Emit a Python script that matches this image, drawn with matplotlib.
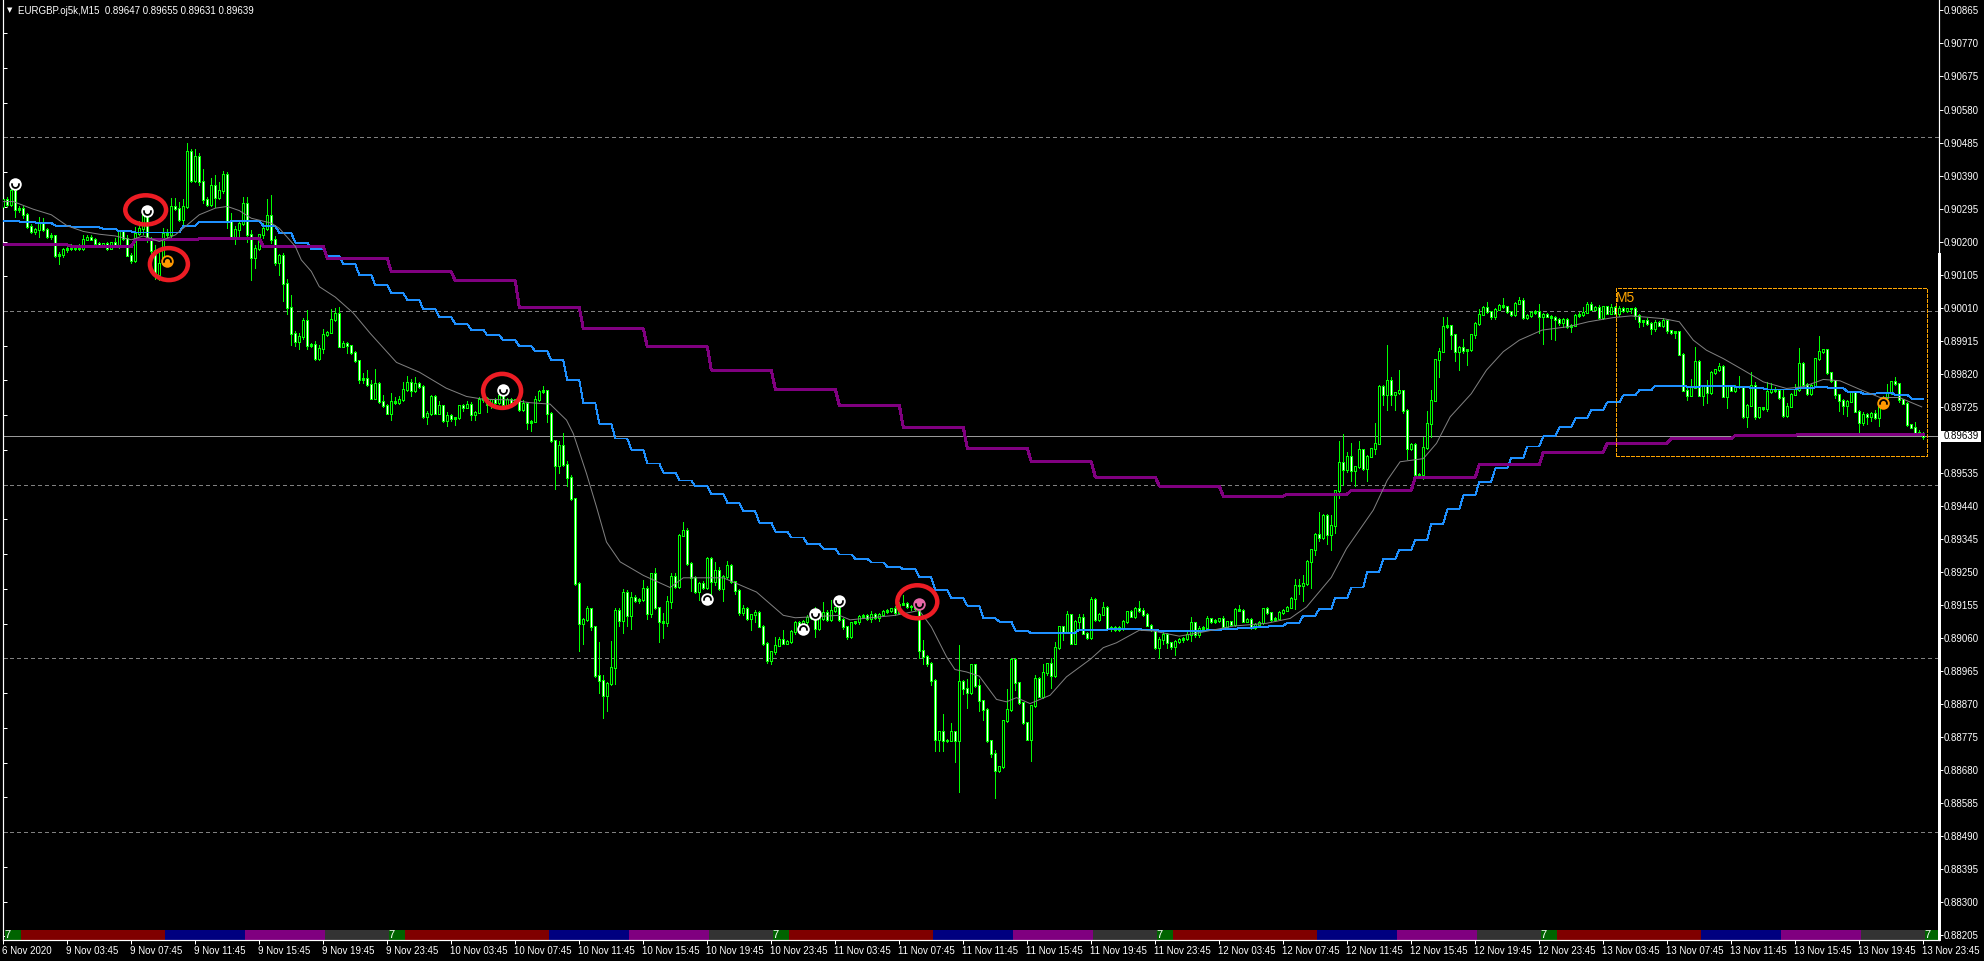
import numpy as np
import matplotlib
matplotlib.use("Agg")
import matplotlib.pyplot as plt
from matplotlib.patches import Ellipse, Rectangle
from matplotlib.path import Path
from matplotlib.transforms import ScaledTranslation

# =========================
# DATA (points above 0.88000)
# =========================

FIRST_OPEN = 2301

CLOSE_PTS = [
    2320,2306,2347,2291,2296,2277,2243,2228,2234,2255,2235,2214,2216,2161,2163,2176,2181,2179,2183,2180,
    2207,2211,2207,2195,2188,2193,2181,2197,2186,2228,2209,2161,2144,2224,2238,2274,2205,2174,2104,2138,
    2224,2219,2301,2296,2264,2301,2458,2376,2445,2373,2322,2306,2362,2328,2347,2392,2258,2214,2234,2253,
    2308,2219,2155,2181,2219,2238,2274,2205,2140,2159,2080,2011,1936,1912,1928,1974,1900,1904,1863,1893,
    1931,1939,1976,1994,1898,1907,1900,1880,1857,1804,1806,1787,1749,1792,1739,1728,1706,1739,1736,1744,
    1775,1794,1771,1790,1784,1696,1706,1754,1706,1727,1684,1700,1691,1693,1727,1723,1730,1701,1708,1746,
    1749,1730,1744,1736,1758,1730,1744,1736,1744,1717,1734,1679,1683,1744,1768,1771,1706,1627,1555,1613,
    1559,1520,1459,1215,1100,1112,1143,1091,950,937,893,927,975,1139,1108,1191,1124,1175,1167,1169,
    1201,1129,1244,1146,1106,1103,1164,1237,1208,1355,1369,1273,1233,1194,1217,1204,1287,1220,1252,1201,
    1235,1268,1220,1196,1131,1143,1116,1125,1132,1093,1043,993,1019,1038,1054,1043,1048,1076,1102,1091,
    1105,1119,1134,1086,1115,1132,1112,1139,1146,1112,1091,1062,1102,1105,1121,1124,1116,1127,1117,1127,
    1135,1137,1143,1131,1156,1158,1148,1150,1143,1022,1005,985,935,767,789,763,765,789,763,934,
    912,901,982,922,878,853,763,726,676,688,820,853,997,930,872,815,767,863,941,891,
    958,985,951,1031,1091,1077,1125,1043,1107,1118,1072,1060,1170,1112,1127,1147,1085,1088,1083,1088,
    1106,1134,1122,1144,1139,1127,1095,1083,1031,1053,1070,1045,1033,1049,1053,1057,1070,1103,1070,1086,
    1089,1114,1106,1108,1114,1093,1106,1099,1141,1139,1107,1112,1089,1099,1103,1143,1131,1112,1115,1132,
    1139,1147,1173,1210,1211,1215,1279,1313,1357,1348,1412,1357,1383,1482,1565,1544,1580,1542,1551,1601,
    1546,1582,1604,1619,1784,1760,1801,1760,1765,1770,1715,1604,1616,1529,1530,1607,1676,1743,1859,1884,
    1954,1958,1932,1884,1895,1885,1889,1932,1964,1991,2010,1998,1983,2005,2016,2012,1998,1989,2022,2031,
    1981,1987,1995,1999,1983,1990,1985,1980,1976,1966,1976,1954,1959,1987,1989,1997,2020,2005,2010,1981,
    2012,1993,2010,1993,2007,2001,2007,2007,1988,1969,1972,1964,1950,1968,1959,1972,1943,1937,1940,1875,
    1772,1758,1780,1856,1758,1782,1764,1823,1831,1841,1755,1782,1772,1784,1782,1695,1729,1785,1695,1722,
    1719,1767,1774,1770,1751,1698,1726,1760,1774,1849,1788,1762,1786,1863,1883,1889,1822,1799,1759,1743,
    1729,1740,1765,1712,1678,1703,1695,1705,1693,1724,1751,1764,1796,1791,1745,1734,1672,1666,1649,1647,
    1639,
]

WICK_UP = [
    30,8,10,5,6,5,5,8,6,15,12,5,8,3,8,5,3,12,8,10,
    12,8,8,3,3,3,6,3,12,5,6,10,5,18,20,12,5,8,15,30,
    15,12,25,25,18,22,25,8,22,10,35,5,20,30,25,12,8,25,10,8,
    20,20,15,10,3,15,48,60,10,5,8,12,34,5,10,5,30,3,10,10,
    18,3,30,15,18,8,5,3,5,3,15,25,15,40,3,20,3,25,12,12,
    20,20,10,20,5,3,5,5,3,15,3,8,3,3,3,5,10,8,3,5,
    3,3,3,5,8,10,5,5,3,8,10,3,3,12,5,12,3,3,3,12,
    35,8,8,3,5,3,8,3,3,98,15,5,75,5,5,10,5,15,8,5,
    25,8,3,15,3,25,15,10,10,3,25,5,5,3,3,5,5,5,25,10,
    5,12,5,3,5,12,5,3,8,5,3,5,3,25,8,28,6,5,5,5,
    5,5,5,15,8,30,8,28,3,3,3,3,3,3,3,5,5,8,5,5,
    5,5,3,8,5,25,5,5,10,5,30,5,5,5,3,50,3,25,3,105,
    5,30,3,3,20,3,3,3,10,3,3,58,3,3,3,3,3,3,10,5,
    25,3,15,15,3,3,10,3,3,10,10,3,8,3,5,15,3,5,5,5,
    5,3,5,3,20,5,5,3,3,8,5,3,3,5,5,5,8,15,3,8,
    3,8,3,5,3,8,3,3,3,12,3,5,3,3,5,3,5,3,3,5,
    3,5,3,18,18,25,3,3,5,65,3,3,30,3,62,80,15,40,3,25,
    3,3,3,60,3,3,100,10,3,60,3,3,3,3,3,30,35,30,3,10,
    28,25,3,3,3,25,3,3,3,15,5,15,3,5,3,22,3,3,3,8,
    5,3,5,5,20,5,3,3,5,5,3,5,5,3,8,15,5,5,5,8,
    3,3,10,3,8,5,3,3,5,3,3,8,3,5,3,8,3,3,3,3,
    3,5,25,40,3,3,20,3,3,8,3,3,3,3,30,3,3,40,10,3,
    3,30,20,8,3,25,8,3,15,45,3,5,3,3,45,3,3,3,3,3,
    5,5,3,5,3,5,3,3,10,3,3,25,3,15,3,3,3,3,15,8,
    5,
]

WICK_DOWN = [
    5,5,3,20,5,10,5,3,5,20,5,3,8,5,26,8,6,3,3,3,
    5,3,3,3,5,3,5,3,3,5,5,3,5,3,5,15,5,8,12,14,
    5,5,5,5,5,15,5,5,5,10,10,5,5,30,5,8,20,8,22,22,
    5,20,65,30,5,10,5,10,8,35,50,20,35,12,20,10,10,3,4,5,
    15,3,3,5,3,3,20,5,3,10,12,3,3,3,3,3,3,20,3,3,
    3,5,15,3,5,5,20,5,3,3,3,15,8,20,3,10,3,15,15,3,
    8,20,10,3,3,12,3,5,3,5,5,18,25,3,3,3,25,3,68,20,
    5,25,3,5,80,58,5,10,3,38,64,45,5,50,15,35,30,40,5,8,
    5,15,10,5,60,45,10,20,5,5,3,5,40,5,25,5,5,45,10,5,
    35,5,3,10,5,5,5,35,20,3,5,5,8,5,3,3,3,3,5,3,
    5,5,5,25,5,5,5,5,5,3,5,5,3,3,5,3,5,12,3,8,
    3,3,3,5,3,3,3,8,5,22,20,8,12,33,35,30,3,3,62,148,
    15,45,3,3,30,30,3,10,78,3,3,3,3,20,3,3,3,62,3,3,
    5,5,35,5,3,25,3,3,3,20,3,3,3,3,5,3,3,5,5,5,
    5,5,3,5,5,5,3,5,5,29,12,15,5,24,5,5,3,20,8,8,
    8,3,3,3,3,3,3,3,5,3,3,3,3,5,3,3,3,3,3,3,
    3,3,3,30,25,45,3,75,15,10,3,28,45,22,20,45,8,30,45,3,
    3,35,3,15,3,30,45,30,45,5,10,30,5,3,5,15,3,40,3,50,
    3,3,40,28,55,5,40,3,10,3,3,3,5,5,3,3,5,3,3,3,
    3,3,5,3,45,77,3,60,60,5,12,3,15,3,3,3,3,3,3,5,
    5,3,3,3,8,3,3,12,10,15,12,3,15,8,3,5,5,3,15,3,
    3,15,3,3,3,30,30,3,3,3,3,35,3,5,3,3,30,3,5,3,
    3,8,3,3,3,3,3,3,3,3,3,3,5,3,3,3,3,3,10,30,
    25,30,3,3,25,5,20,12,3,25,3,3,3,3,8,3,3,3,3,3,
    8,
]

# slow average, one value per hour (4 bars)
BLUE_PTS = [
    2258,2255,2253,2246,2243,2241,2236,2229,2226,2226,2226,2245,2256,2256,2258,2258,2245,2224,2197,2178,
    2157,2135,2104,2074,2051,2032,2005,1982,1962,1946,1930,1916,1899,1884,1858,1801,1735,1676,1633,1601,
    1561,1535,1512,1495,1474,1448,1423,1391,1365,1348,1330,1316,1299,1287,1276,1264,1256,1233,1196,1173,
    1152,1115,1106,1080,1072,1072,1074,1083,1083,1084,1085,1082,1080,1079,1079,1081,1085,1087,1091,1094,
    1103,1123,1143,1175,1204,1250,1286,1313,1342,1388,1429,1469,1509,1547,1578,1610,1639,1665,1691,1716,
    1737,1757,1772,1785,1785,1782,1784,1785,1782,1777,1774,1774,1779,1780,1778,1768,1762,1765,1759,1748,
]

# slowest average, one value per 4 hours (16 bars)
PURPLE_PTS = [
    2190,2186,2205,2208,2186,2151,2113,2087,2010,1949,1897,1830,1775,1729,1665,
    1605,1566,1522,1496,1467,1473,1484,1522,1557,1594,1620,1632,1642,1645,1645,
]

# fast average, vertices
MA_BARS = [
    0,2.5,7.5,12,16,20,24,28,32,35,39,43,46,49,53,56,59,62,67,69,73,74.5,77,79,83,87.5,91.7,98.3,104,110.7,
    115.8,120,126.7,131.7,136.7,140.8,142.5,145.8,148.3,150.8,154.2,160,166.7,170,180,188.3,195,198,209,211.7,
    223,229,232,235.8,237.9,240.8,244,248.3,250.8,253.3,256.7,261.7,265.8,271.7,275,278.3,284,287.5,294,299,
    307.5,315.8,321.7,325.8,332,335.8,342.5,346,349.2,355,358.3,361.7,367,370.8,375,379,384.7,391.3,396.3,402.5,
    407,415,419,422.5,425.8,430,435,440,445.8,450,455,459.2,464.2,469.2,474,479.6,
]
MA_PTS = [
    2315,2315,2293,2277,2245,2229,2221,2216,2205,2216,2200,2219,2248,2277,2296,2301,2289,2267,2253,2238,2186,2147,2114,2070,2040,1994,1936,1852,1824,1778,
    1754,1746,1744,1736,1732,1686,1647,1532,1436,1335,1278,1239,1204,1232,1232,1191,1124,1117,1124,1111,
    1124,1138,1091,1005,968,961,949,882,875,887,870,894,947,997,1031,1045,1081,1079,1064,1074,
    1093,1101,1115,1148,1233,1316,1427,1513,1566,1575,1619,1695,1762,1830,1883,1916,1945,1955,1969,1981,
    1986,1978,1969,1916,1887,1863,1830,1796,1777,1782,1803,1799,1774,1751,1751,1724,
]

LEVELS = [0.905, 0.900, 0.895, 0.890, 0.885]
LAST_PRICE = 0.89639

PRICE_TICKS = [
    0.90865,0.90770,0.90675,0.90580,0.90485,0.90390,0.90295,0.90200,0.90105,0.90010,
    0.89915,0.89820,0.89725,0.89535,0.89440,0.89345,0.89250,0.89155,0.89060,0.88965,
    0.88870,0.88775,0.88680,0.88585,0.88490,0.88395,0.88300,0.88205,
]

TIME_LABELS = [
    "6 Nov 2020",
    "9 Nov 03:45","9 Nov 07:45","9 Nov 11:45","9 Nov 15:45","9 Nov 19:45","9 Nov 23:45",
    "10 Nov 03:45","10 Nov 07:45","10 Nov 11:45","10 Nov 15:45","10 Nov 19:45","10 Nov 23:45",
    "11 Nov 03:45","11 Nov 07:45","11 Nov 11:45","11 Nov 15:45","11 Nov 19:45","11 Nov 23:45",
    "12 Nov 03:45","12 Nov 07:45","12 Nov 11:45","12 Nov 15:45","12 Nov 19:45","12 Nov 23:45",
    "13 Nov 03:45","13 Nov 07:45","13 Nov 11:45","13 Nov 15:45","13 Nov 19:45","13 Nov 23:45",
]

# session strip: bars per block of one day
SESSION_BARS = [4, 36, 20, 20, 16]
SESSION_COLORS = ["#006400", "#800000", "#000080", "#800080", "#333333"]
DAY_STARTS = [1, 97, 193, 289, 385, 481]

# arrows: bar, points, colour
DOWN_MARK_BARS = [2.9, 35.8, 124.8, 203, 209, 229]
DOWN_MARK_PTS = [2366, 2289, 1772, 1127, 1165, 1156]
DOWN_MARK_COLORS = ["white", "white", "white", "white", "white", "#E868A8"]
UP_MARK_BARS = [176, 200, 41, 470]
UP_MARK_PTS = [1171, 1084, 2145, 1736]
UP_MARK_COLORS = ["white", "white", "#FF9900", "#FF9900"]

# hand drawn circles: bar, points, width in bars, height in points
CIRCLE_BARS = [35.6, 41.4, 124.7, 228.5]
CIRCLE_PTS = [2291, 2135, 1770, 1163]
CIRCLE_W = [10.2, 9.5, 9.5, 10.0]
CIRCLE_H = [84, 92, 98, 95]

# M5 box
BOX_BARS = [403.1, 481.0]
BOX_PTS = [1582, 2065]

# =========================
# HELPERS
# =========================

def price(pts):
    return 0.88 + np.asarray(pts, dtype=float) / 1e5

PX = 0.72  # one pixel in points at dpi 100
PTS_PER_PX = 2.8785

# =========================
# FIGURE
# =========================

W, H = 1984, 961
fig = plt.figure(figsize=(W / 100, H / 100), dpi=100, facecolor="black")
ax = fig.add_axes([3 / W, (H - 940) / H, 1935.5 / W, 940 / H], facecolor="black")
ax.set_xlim(-0.075, 483.8)
ax.set_ylim(float(price(189.4)), float(price(2895.2)))

font = dict(family=["Liberation Sans", "DejaVu Sans"], color="white", fontsize=7)

# =========================
# LEVELS
# =========================

for lvl in LEVELS:
    ax.axhline(lvl, color="#808080", lw=PX, dashes=(3, 3), zorder=1, antialiased=False)
ax.axhline(LAST_PRICE, color="#999999", lw=PX, zorder=1, antialiased=False)

# =========================
# CANDLES
# =========================

closes = price(CLOSE_PTS)
opens = np.r_[price(FIRST_OPEN), closes[:-1]]
bars = np.arange(len(closes))
tops = np.maximum(opens, closes)
lows = np.minimum(opens, closes)
highs = tops + np.array(WICK_UP) / 1e5
bottoms = lows - np.array(WICK_DOWN) / 1e5
half_px = 0.5 * PTS_PER_PX / 1e5

ax.vlines(bars, bottoms, highs, color="#00FF00", lw=PX, zorder=2, antialiased=False)
ax.vlines(bars, lows - half_px, tops + half_px, color="#00FF00", lw=3 * PX, zorder=3, antialiased=False)
tall = (tops - lows) > 2 * half_px
ax.vlines(
    bars[tall], lows[tall] + half_px, tops[tall] - half_px,
    color=["white" if c < o else "black" for o, c in zip(opens[tall], closes[tall])],
    lw=PX, zorder=3.5, antialiased=False,
)

# =========================
# AVERAGES
# =========================

blue_x = np.r_[0, 1 + np.arange(len(BLUE_PTS) * 4)]
blue_y = np.repeat(BLUE_PTS, 4)
ax.plot(blue_x, price(np.r_[BLUE_PTS[0], blue_y]), color="#1E90FF", lw=PX * 0.95, zorder=4, antialiased=False)

purple_x = np.r_[0, 1 + np.arange(len(PURPLE_PTS) * 16)]
purple_y = np.repeat(PURPLE_PTS, 16)
ax.plot(purple_x, price(np.r_[PURPLE_PTS[0], purple_y]), color="#800080", lw=PX * 2, zorder=4, antialiased=False)

ax.plot(MA_BARS, price(MA_PTS), color="#808080", lw=PX, zorder=5)

# =========================
# ARROW MARKS
# =========================

down_arc = Path.arc(160, 380)
up_arc = Path.arc(-20, 200)

for bx, py, col in zip(DOWN_MARK_BARS, DOWN_MARK_PTS, DOWN_MARK_COLORS):
    ax.plot(bx, price(py), "o", ms=12.5 * PX, mfc=col, mec="none", zorder=6)
    ax.plot(bx, price(py), marker=down_arc, ms=7 * PX, mfc="none", mec="black", mew=1.8 * PX, zorder=7)

for bx, py, col in zip(UP_MARK_BARS, UP_MARK_PTS, UP_MARK_COLORS):
    ax.plot(bx, price(py), "o", ms=12.5 * PX, mfc=col, mec="none", zorder=6)
    ax.plot(bx, price(py), marker=up_arc, ms=7 * PX, mfc="none", mec="black", mew=1.8 * PX, zorder=7)

# =========================
# RED CIRCLES
# =========================

for bx, py, w, h in zip(CIRCLE_BARS, CIRCLE_PTS, CIRCLE_W, CIRCLE_H):
    ax.add_patch(Ellipse((bx, price(py)), w, h / 1e5, fill=False, edgecolor="#ED1C24", lw=4.5 * PX, zorder=8))

# =========================
# M5 BOX
# =========================

ax.add_patch(Rectangle(
    (BOX_BARS[0], price(BOX_PTS[0])), BOX_BARS[1] - BOX_BARS[0], (BOX_PTS[1] - BOX_PTS[0]) / 1e5,
    fill=False, edgecolor="#FFA500", lw=PX, ls=(0, (4, 2)), zorder=6, antialiased=False,
))
ax.text(BOX_BARS[0], price(BOX_PTS[1] - 7), "M5", family=["Liberation Sans"], color="#FFA500",
        fontsize=10, va="top", ha="left", zorder=6)

# =========================
# SESSION STRIP
# =========================

strip_lo, strip_h = price(189.4), 29 / 1e5
for start in DAY_STARTS:
    pos = start
    for n, col in zip(SESSION_BARS, SESSION_COLORS):
        ax.broken_barh([(pos - 0.5, n)], (strip_lo, strip_h), facecolor=col, edgecolor="none", zorder=2)
        pos += n
    ax.text(start - 0.7, strip_lo + 0.5 * strip_h, "7", family=["Liberation Sans"], color="white",
            fontsize=8, va="center", ha="left", zorder=3, clip_on=True)

# =========================
# AXES
# =========================

ax.spines["top"].set_visible(False)
for side in ["left", "bottom", "right"]:
    ax.spines[side].set_color("white")
    ax.spines[side].set_linewidth(1.2 * PX)

# right border is heavy below the first price levels
ax.plot([1, 1], [float(price(189.4)), float(price(2167))], transform=ax.get_yaxis_transform(),
        color="white", lw=3 * PX, clip_on=False, zorder=9, solid_capstyle="butt", antialiased=False)

ax.yaxis.tick_right()
ax.set_yticks(PRICE_TICKS)
ax.set_yticklabels([f"{p:.5f}" for p in PRICE_TICKS], **font)
ax.tick_params(axis="y", which="major", right=True, left=False, color="white",
               length=4 * PX, width=PX, pad=1.5 * PX)

ax.set_xticks(np.arange(len(TIME_LABELS)) * 16)
ax.set_xticklabels(TIME_LABELS, ha="left", **font)
ax.tick_params(axis="x", color="white", length=3.5 * PX, width=PX, pad=3 * PX)

left_ticks = ax.secondary_yaxis("left")
left_ticks.set_yticks(np.arange(0.882, 0.9085, 0.001))
left_ticks.tick_params(direction="in", color="white", length=4 * PX, width=PX, labelleft=False)
left_ticks.spines["left"].set_visible(False)

# last price box
ax.add_patch(Rectangle(
    (1 + 1.5 / 1935.5, price(1639 - 16)), 41 / 1935.5, 32 / 1e5, transform=ax.get_yaxis_transform(),
    facecolor="white", edgecolor="none", clip_on=False, zorder=10,
))
ax.text(1 + 5.5 / 1935.5, float(price(1639)), "0.89639", transform=ax.get_yaxis_transform(), color="black",
        fontsize=7, family=["Liberation Sans"], va="center", ha="left", clip_on=False, zorder=11)

# header
fig.text(18 / W, 1 - 10.5 / H, "EURGBP.oj5k,M15  0.89647 0.89655 0.89631 0.89639", va="center", ha="left", **font)
fig.text(10 / W, 1 - 10.5 / H, "\u25BC", va="center", ha="center", color="white", fontsize=5, family=["DejaVu Sans"])

# labels start a pixel left of their tick
nudge = ScaledTranslation(-1.3 / 100, 0, fig.dpi_scale_trans)
for lab in ax.get_xticklabels():
    lab.set_transform(lab.get_transform() + nudge)

fig.savefig("out.png", dpi=100, facecolor="black")
